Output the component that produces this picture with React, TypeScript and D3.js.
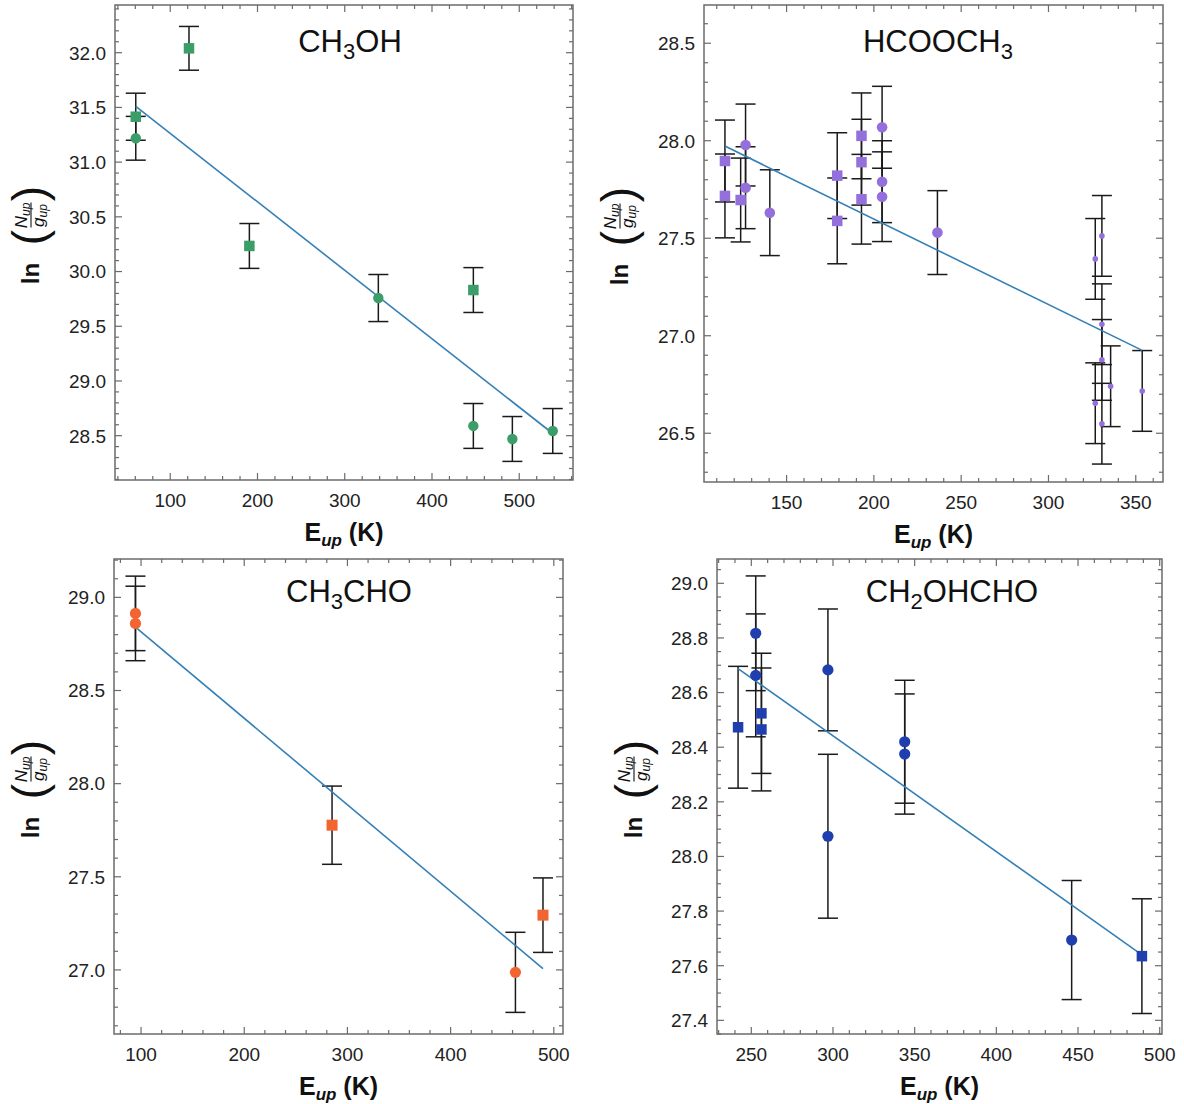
import React from "react";
import * as d3 from "d3";

// ---------- DATA ----------
// CH3OH
const ch3ohEup = [60.5, 60.5, 121.5, 190.7, 338.5, 447.4, 447.4, 492.1, 538.4];
const ch3ohLn = [31.415, 31.218, 32.04, 30.234, 29.758, 29.831, 28.589, 28.47, 28.543];
const ch3ohErr = [0.215, 0.2, 0.2, 0.205, 0.215, 0.205, 0.205, 0.205, 0.205];
const ch3ohShape = ["s", "c", "s", "s", "c", "s", "c", "c", "c"];
const ch3ohFitE = [60.5, 538.4];
const ch3ohFitLn = [31.51, 28.52];

// HCOOCH3
const hcoochEup = [114.7, 114.7, 123.7, 126.5, 126.5, 140.4, 179.0, 179.0, 192.9, 192.9, 192.9, 204.7, 204.7, 204.7, 236.4,
  330.6, 326.8, 330.6, 330.6, 330.6, 326.8, 335.6, 353.7];
const hcoochLn = [27.896, 27.717, 27.696, 27.978, 27.759, 27.631, 27.821, 27.589, 28.025, 27.89, 27.7, 28.069, 27.79, 27.713, 27.529,
  27.512, 27.394, 27.059, 26.876, 26.549, 26.654, 26.741, 26.717];
const hcoochErr = [0.21, 0.215, 0.215, 0.21, 0.21, 0.22, 0.22, 0.22, 0.22, 0.22, 0.23, 0.21, 0.21, 0.23, 0.215,
  0.207, 0.207, 0.207, 0.207, 0.207, 0.207, 0.207, 0.207];
const hcoochShape = ["s", "s", "s", "c", "c", "c", "s", "s", "s", "s", "s", "c", "c", "c", "c",
  "d", "d", "d", "d", "d", "d", "d", "d"];
const hcoochFitE = [115.2, 353.7];
const hcoochFitLn = [27.97, 26.925];

// CH3CHO
const ch3choEup = [94.6, 94.6, 285.1, 462.8, 489.5];
const ch3choLn = [28.914, 28.86, 27.777, 26.987, 27.294];
const ch3choErr = [0.2, 0.2, 0.21, 0.215, 0.2];
const ch3choShape = ["c", "c", "s", "c", "s"];
const ch3choFitE = [94.6, 489.5];
const ch3choFitLn = [28.84, 27.007];

// CH2OHCHO
const glyEup = [241.9, 252.7, 252.7, 256.2, 256.2, 296.9, 296.9, 343.9, 343.9, 446.1, 489.1];
const glyLn = [28.473, 28.817, 28.663, 28.524, 28.465, 28.683, 28.074, 28.42, 28.375, 27.694, 27.635];
const glyErr = [0.223, 0.21, 0.225, 0.22, 0.225, 0.223, 0.3, 0.225, 0.22, 0.218, 0.21];
const glyShape = ["s", "c", "c", "s", "s", "c", "c", "c", "c", "c", "s"];
const glyFitE = [241.9, 489.1];
const glyFitLn = [28.688, 27.64];

// tick labels
const xTicksA = [100, 200, 300, 400, 500];
const xTicksB = [150, 200, 250, 300, 350];
const xTicksD = [250, 300, 350, 400, 450, 500];
const yTicksA = [28.5, 29.0, 29.5, 30.0, 30.5, 31.0, 31.5, 32.0];
const yTicksB = [26.5, 27.0, 27.5, 28.0, 28.5];
const yTicksC = [27.0, 27.5, 28.0, 28.5, 29.0];
const yTicksD = [27.4, 27.6, 27.8, 28.0, 28.2, 28.4, 28.6, 28.8, 29.0];

const FONT = "'Liberation Sans', Arial, Helvetica, sans-serif";
const FIT_COLOR = "#3580b6";
const FRAME = "#6b6b6b";

type TitlePart = { t: string; sub?: boolean };

interface PanelProps {
  left: number; right: number; top: number; bottom: number;
  xDomain: [number, number]; yDomain: [number, number];
  xTicks: number[]; xMinor: number; yTicks: number[]; yMinor: number;
  E: number[]; L: number[]; Err: number[]; Shape: string[];
  fitE: number[]; fitL: number[];
  color: string; title: TitlePart[]; titleX: number; titleY: number;
  ylabX: number; r: number; sq: number;
}

function minorRange(d: [number, number], step: number) {
  const out: number[] = [];
  const start = Math.ceil(d[0] / step - 1e-9);
  for (let i = start; i * step <= d[1] + 1e-9; i++) out.push(+(i * step).toFixed(6));
  return out;
}

function YLabel({ cx, cy }: { cx: number; cy: number }) {
  return (
    <g transform={`translate(${cx},${cy}) rotate(-90)`} fontFamily={FONT} fill="#111">
      <text x={-31} y={8} fontSize={24} fontWeight="bold" textAnchor="middle">ln</text>
      <text x={5} y={14} fontSize={46} fontWeight={300} textAnchor="middle">(</text>
      <text x={27} y={-4} fontSize={17} fontStyle="italic" textAnchor="middle">
        N<tspan fontSize={12} dy={3}>up</tspan>
      </text>
      <line x1={15} x2={40} y1={0} y2={0} stroke="#111" strokeWidth={1.1} />
      <text x={27} y={13} fontSize={17} fontStyle="italic" textAnchor="middle">
        g<tspan fontSize={12} dy={3}>up</tspan>
      </text>
      <text x={49} y={14} fontSize={46} fontWeight={300} textAnchor="middle">)</text>
    </g>
  );
}

function Panel(p: PanelProps) {
  const x = d3.scaleLinear().domain(p.xDomain).range([p.left, p.right]);
  const y = d3.scaleLinear().domain(p.yDomain).range([p.bottom, p.top]);
  const xMinor = minorRange(p.xDomain, p.xMinor);
  const yMinor = minorRange(p.yDomain, p.yMinor);
  const isMajorX = (v: number) => p.xTicks.some((t) => Math.abs(t - v) < 1e-6);
  const isMajorY = (v: number) => p.yTicks.some((t) => Math.abs(t - v) < 1e-6);
  const MJ = 7, MN = 4;
  const line = d3.line<number>().x((_, i) => x(p.fitE[i])).y((d) => y(d));
  const cx = (p.left + p.right) / 2;
  const cy = (p.top + p.bottom) / 2;
  return (
    <g>
      <g stroke={FRAME} strokeWidth={1.2}>
        {xMinor.map((v, i) => {
          const L = isMajorX(v) ? MJ : MN;
          const px = x(v);
          return (
            <g key={"xt" + i}>
              <line x1={px} x2={px} y1={p.bottom} y2={p.bottom - L} />
              <line x1={px} x2={px} y1={p.top} y2={p.top + L} />
            </g>
          );
        })}
        {yMinor.map((v, i) => {
          const L = isMajorY(v) ? MJ : MN;
          const py = y(v);
          return (
            <g key={"yt" + i}>
              <line x1={p.left} x2={p.left + L} y1={py} y2={py} />
              <line x1={p.right} x2={p.right - L} y1={py} y2={py} />
            </g>
          );
        })}
      </g>
      <rect x={p.left} y={p.top} width={p.right - p.left} height={p.bottom - p.top} fill="none" stroke={FRAME} strokeWidth={1.5} />
      <g fontFamily={FONT} fontSize={19} fill="#222">
        {p.xTicks.map((v) => (
          <text key={"xl" + v} x={x(v)} y={p.bottom + 27} textAnchor="middle">{d3.format("d")(v)}</text>
        ))}
        {p.yTicks.map((v) => (
          <text key={"yl" + v} x={p.left - 9} y={y(v)} dy="0.36em" textAnchor="end">{d3.format(".1f")(v)}</text>
        ))}
      </g>
      <text x={cx} y={p.bottom + 61} textAnchor="middle" fontFamily={FONT} fontSize={25} fontWeight="bold" fill="#111">
        E<tspan fontSize={17} fontStyle="italic" fontWeight="bold" dy={5}>up</tspan>
        <tspan dy={-5}> (K)</tspan>
      </text>
      <YLabel cx={p.ylabX} cy={cy} />
      <text x={p.titleX} y={p.titleY} textAnchor="middle" fontFamily={FONT} fontSize={31} fill="#111">
        {p.title.map((tp, i) =>
          tp.sub ? (
            <tspan key={i} fontSize={22} dy={7}>{tp.t}</tspan>
          ) : (
            <tspan key={i} dy={i > 0 && p.title[i - 1].sub ? -7 : 0}>{tp.t}</tspan>
          )
        )}
      </text>
      <g stroke="#1a1a1a" strokeWidth={1.5}>
        {p.E.map((e, i) => {
          const px = x(e);
          const hi = y(p.L[i] + p.Err[i]);
          const lo = y(p.L[i] - p.Err[i]);
          return (
            <g key={"eb" + i}>
              <line x1={px} x2={px} y1={hi} y2={lo} />
              <line x1={px - 10} x2={px + 10} y1={hi} y2={hi} />
              <line x1={px - 10} x2={px + 10} y1={lo} y2={lo} />
            </g>
          );
        })}
      </g>
      <path d={line(p.fitL) || ""} fill="none" stroke={FIT_COLOR} strokeWidth={1.6} />
      <g fill={p.color}>
        {p.E.map((e, i) => {
          const px = x(e);
          const py = y(p.L[i]);
          const s = p.Shape[i];
          if (s === "s") return <rect key={"m" + i} x={px - p.sq / 2} y={py - p.sq / 2} width={p.sq} height={p.sq} />;
          if (s === "d") return <circle key={"m" + i} cx={px} cy={py} r={2.8} />;
          return <circle key={"m" + i} cx={px} cy={py} r={p.r} />;
        })}
      </g>
    </g>
  );
}

export default function App() {
  return (
    <div style={{ position: "absolute", left: 0, top: 0, background: "#fff" }}>
      <svg width={1184} height={1104} style={{ display: "block" }}>
        <rect width={1184} height={1104} fill="#fff" />
        <Panel left={115} right={573} top={5} bottom={480}
          xDomain={[36.7, 561.6]} yDomain={[28.095, 32.436]}
          xTicks={xTicksA} xMinor={20} yTicks={yTicksA} yMinor={0.1}
          E={ch3ohEup} L={ch3ohLn} Err={ch3ohErr} Shape={ch3ohShape}
          fitE={ch3ohFitE} fitL={ch3ohFitLn} color="#3b9d68"
          title={[{ t: "CH" }, { t: "3", sub: true }, { t: "OH" }]} titleX={350} titleY={52}
          ylabX={31} r={5.2} sq={10.5} />
        <Panel left={704} right={1163} top={5} bottom={482}
          xDomain={[102.7, 365.6]} yDomain={[26.25, 28.696]}
          xTicks={xTicksB} xMinor={10} yTicks={yTicksB} yMinor={0.1}
          E={hcoochEup} L={hcoochLn} Err={hcoochErr} Shape={hcoochShape}
          fitE={hcoochFitE} fitL={hcoochFitLn} color="#9370db"
          title={[{ t: "HCOOCH" }, { t: "3", sub: true }]} titleX={938} titleY={52}
          ylabX={620} r={5.3} sq={10.5} />
        <Panel left={114} right={563} top={559} bottom={1034}
          xDomain={[73.8, 508.9]} yDomain={[26.656, 29.206]}
          xTicks={xTicksA} xMinor={20} yTicks={yTicksC} yMinor={0.1}
          E={ch3choEup} L={ch3choLn} Err={ch3choErr} Shape={ch3choShape}
          fitE={ch3choFitE} fitL={ch3choFitLn} color="#f26430"
          title={[{ t: "CH" }, { t: "3", sub: true }, { t: "CHO" }]} titleX={349} titleY={602}
          ylabX={31} r={5.6} sq={11} />
        <Panel left={717} right={1162} top={559} bottom={1034}
          xDomain={[229, 501.4]} yDomain={[27.35, 29.089]}
          xTicks={xTicksD} xMinor={10} yTicks={yTicksD} yMinor={0.05}
          E={glyEup} L={glyLn} Err={glyErr} Shape={glyShape}
          fitE={glyFitE} fitL={glyFitLn} color="#1f3fae"
          title={[{ t: "CH" }, { t: "2", sub: true }, { t: "OHCHO" }]} titleX={952} titleY={602}
          ylabX={634} r={5.6} sq={10.5} />
      </svg>
    </div>
  );
}
